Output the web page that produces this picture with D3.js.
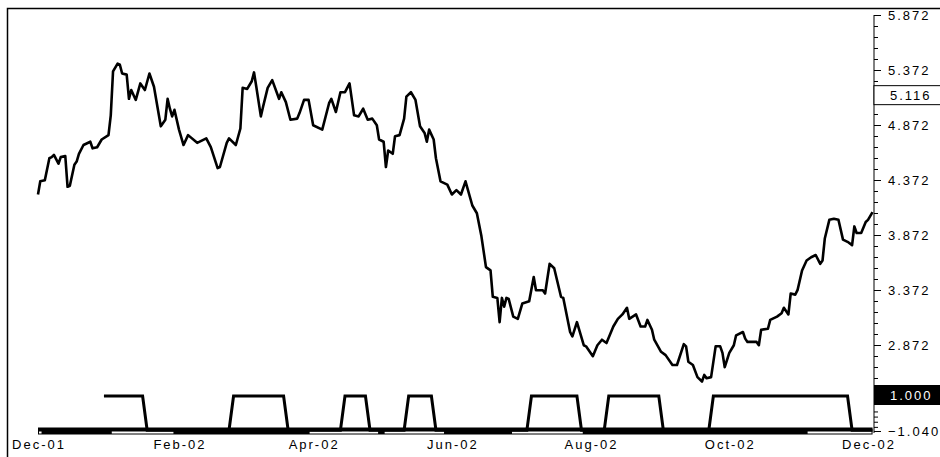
<!DOCTYPE html>
<html>
<head>
<meta charset="utf-8">
<script src="https://cdn.jsdelivr.net/npm/d3@7"></script>
<style>
  body { margin: 0; background: #fff; }
  svg text { font-family: "Liberation Sans", Arial, sans-serif; font-size: 13px; letter-spacing: 2px; }
</style>
</head>
<body>
<div id="chart"></div>
<script>
// price series
const priceDates = [
  "2001-12-01","2001-12-02","2001-12-04","2001-12-06","2001-12-07","2001-12-08","2001-12-10","2001-12-11","2001-12-13","2001-12-14",
  "2001-12-15","2001-12-17","2001-12-18","2001-12-19","2001-12-21","2001-12-24","2001-12-25","2001-12-27","2001-12-29","2002-01-01",
  "2002-01-02","2002-01-03","2002-01-05","2002-01-06","2002-01-07","2002-01-09","2002-01-10","2002-01-11","2002-01-13","2002-01-15",
  "2002-01-17","2002-01-19","2002-01-21","2002-01-24","2002-01-26","2002-01-27","2002-01-28","2002-01-29","2002-01-30","2002-02-01",
  "2002-02-03","2002-02-05","2002-02-09","2002-02-13","2002-02-15","2002-02-18","2002-02-19","2002-02-22","2002-02-23","2002-02-26",
  "2002-02-28","2002-03-01","2002-03-03","2002-03-05","2002-03-06","2002-03-07","2002-03-09","2002-03-10","2002-03-12","2002-03-14",
  "2002-03-17","2002-03-18","2002-03-20","2002-03-22","2002-03-25","2002-03-26","2002-03-28","2002-03-30","2002-04-01","2002-04-05",
  "2002-04-08","2002-04-09","2002-04-11","2002-04-13","2002-04-15","2002-04-17","2002-04-19","2002-04-21","2002-04-23","2002-04-25",
  "2002-04-27","2002-04-29","2002-04-30","2002-05-02","2002-05-03","2002-05-04","2002-05-06","2002-05-07","2002-05-09","2002-05-11",
  "2002-05-12","2002-05-14","2002-05-16","2002-05-18","2002-05-20","2002-05-21","2002-05-22","2002-05-24","2002-05-25","2002-05-27",
  "2002-05-30","2002-06-01","2002-06-03","2002-06-05","2002-06-07","2002-06-10","2002-06-12","2002-06-14","2002-06-16","2002-06-18",
  "2002-06-19","2002-06-21","2002-06-22","2002-06-23","2002-06-24","2002-06-25","2002-06-26","2002-06-28","2002-06-30","2002-07-02",
  "2002-07-05","2002-07-07","2002-07-08","2002-07-11","2002-07-12","2002-07-14","2002-07-16","2002-07-19","2002-07-20","2002-07-23",
  "2002-07-24","2002-07-26","2002-07-29","2002-07-30","2002-08-02","2002-08-04","2002-08-06","2002-08-08","2002-08-11","2002-08-13",
  "2002-08-15","2002-08-17","2002-08-18","2002-08-21","2002-08-23","2002-08-25","2002-08-26","2002-08-28","2002-08-29","2002-09-01",
  "2002-09-03","2002-09-06","2002-09-08","2002-09-11","2002-09-12","2002-09-13","2002-09-15","2002-09-17","2002-09-19","2002-09-20",
  "2002-09-21","2002-09-23","2002-09-25","2002-09-27","2002-09-28","2002-09-29","2002-10-01","2002-10-03","2002-10-04","2002-10-07",
  "2002-10-08","2002-10-09","2002-10-13","2002-10-14","2002-10-15","2002-10-18","2002-10-19","2002-10-22","2002-10-24","2002-10-25",
  "2002-10-27","2002-10-28","2002-10-30","2002-10-31","2002-11-02","2002-11-04","2002-11-06","2002-11-08","2002-11-10","2002-11-11",
  "2002-11-12","2002-11-14","2002-11-16","2002-11-18","2002-11-20","2002-11-22","2002-11-24","2002-11-25","2002-11-26","2002-11-28",
  "2002-11-30","2002-12-01","2002-12-03"
];
const priceValues = [
  4.24,4.36,4.37,4.57,4.58,4.60,4.52,4.58,4.59,4.31,
  4.32,4.51,4.54,4.61,4.69,4.72,4.66,4.67,4.74,4.78,
  4.96,5.36,5.43,5.42,5.34,5.33,5.11,5.19,5.10,5.25,
  5.19,5.34,5.22,4.86,4.92,5.11,5.02,4.95,5.01,4.83,
  4.69,4.78,4.71,4.75,4.67,4.48,4.49,4.71,4.75,4.69,
  4.84,5.21,5.20,5.27,5.35,5.22,4.95,5.04,5.21,5.28,
  5.11,5.17,5.08,4.92,4.93,4.98,5.10,5.10,4.87,4.83,
  5.07,5.11,4.99,5.17,5.17,5.25,4.96,4.95,5.02,4.92,
  4.93,4.87,4.74,4.72,4.49,4.64,4.61,4.77,4.78,4.93,
  5.13,5.17,5.10,4.86,4.80,4.72,4.83,4.74,4.57,4.36,
  4.33,4.24,4.28,4.24,4.36,4.14,4.07,3.86,3.58,3.55,
  3.31,3.30,3.08,3.30,3.22,3.30,3.29,3.13,3.11,3.25,
  3.27,3.49,3.37,3.37,3.34,3.61,3.57,3.31,3.30,2.99,
  2.95,3.08,2.87,2.86,2.77,2.87,2.92,2.89,3.04,3.11,
  3.15,3.21,3.11,3.15,3.04,3.04,3.10,3.01,2.92,2.81,
  2.78,2.69,2.69,2.88,2.86,2.72,2.69,2.58,2.54,2.60,
  2.57,2.58,2.86,2.86,2.80,2.67,2.80,2.87,2.96,2.99,
  2.93,2.90,2.90,2.87,3.01,3.02,3.10,3.13,3.16,3.21,
  3.15,3.34,3.33,3.37,3.55,3.64,3.67,3.69,3.61,3.64,
  3.84,4.01,4.02,4.01,3.83,3.81,3.78,3.95,3.89,3.89,
  3.99,4.01,4.08
];

// on/off signal in the lower panel
const signalDates = [
  "2001-12-30","2002-01-16","2002-01-18","2002-02-23","2002-02-25","2002-03-19","2002-03-21",
  "2002-04-13","2002-04-15","2002-04-24","2002-04-26","2002-05-11","2002-05-13","2002-05-23","2002-05-25",
  "2002-07-04","2002-07-06","2002-07-26","2002-07-28","2002-08-07","2002-08-09","2002-08-31","2002-09-02",
  "2002-09-22","2002-09-24","2002-11-22","2002-11-24","2002-12-03"
];
const signalValues = [
  1,1,-1,-1,1,1,-1,
  -1,1,1,-1,-1,1,1,-1,
  -1,1,1,-1,-1,1,1,-1,
  -1,1,1,-1,-1
];

// white gaps inside the bottom bar
const gapStarts = ["2001-12-01","2002-01-02","2002-03-30","2002-05-02","2002-06-27","2002-11-04"];
const gapEnds   = ["2001-12-03","2002-01-30","2002-04-30","2002-05-29","2002-07-29","2002-12-03"];

const xTickDates = ["2001-12-01","2002-02-01","2002-04-01","2002-06-01","2002-08-01","2002-10-01","2002-12-01"];
const priceTicks = [5.872, 5.372, 4.872, 4.372, 3.872, 3.372, 2.872];
const priceMinorTicks = d3.range(0, 35).map(i => +(5.872 - i * 0.1).toFixed(3));
const markerValue = 5.116;
const signalLabel = 1.000;
const signalBottom = -1.040;
const signalMinorTicks = [0.1, -0.2, -0.5, -0.8];

const width = 940;
const height = 457;
const axisX = 874;

const parse = d3.timeParse('%Y-%m-%d');

const svg = d3.select('#chart')
  .append('svg')
  .attr('width', width)
  .attr('height', height);

const x = d3.scaleTime()
  .domain([parse('2001-12-01'), parse('2002-12-01')])
  .range([38, 868]);

const yPrice = d3.scaleLinear()
  .domain([5.872, 2.872])
  .range([15, 345]);

const ySig = d3.scaleLinear()
  .domain([signalLabel, signalBottom])
  .range([396, 431]);

// outer frame
svg.append('rect')
  .attr('x', 7.5).attr('y', 8.5)
  .attr('width', 1000).attr('height', 1000)
  .attr('fill', 'none')
  .attr('stroke', '#000')
  .attr('stroke-width', 1.5);

// price line
const prices = priceDates.map((d, i) => ({ date: parse(d), value: priceValues[i] }));
svg.append('path')
  .datum(prices)
  .attr('fill', 'none')
  .attr('stroke', '#000')
  .attr('stroke-width', 2.6)
  .attr('stroke-linejoin', 'round')
  .attr('d', d3.line().x(d => x(d.date)).y(d => yPrice(d.value)));

// bottom bar with white gaps
svg.append('rect')
  .attr('x', x(parse(priceDates[0])))
  .attr('y', ySig(signalBottom) - 3.5)
  .attr('width', x(parse(priceDates[priceDates.length - 1])) - x(parse(priceDates[0])))
  .attr('height', 7)
  .attr('fill', '#000');

svg.selectAll('line.gap')
  .data(gapStarts)
  .enter()
  .append('line')
  .attr('class', 'gap')
  .attr('x1', d => x(parse(d)) + 1)
  .attr('x2', (d, i) => x(parse(gapEnds[i])) - 1)
  .attr('y1', ySig(signalBottom) + 1.5)
  .attr('y2', ySig(signalBottom) + 1.5)
  .attr('stroke', '#fff')
  .attr('stroke-width', 2);

// signal line
const signal = signalDates.map((d, i) => ({ date: parse(d), value: signalValues[i] }));
svg.append('path')
  .datum(signal)
  .attr('fill', 'none')
  .attr('stroke', '#000')
  .attr('stroke-width', 3)
  .attr('d', d3.line().x(d => x(d.date)).y(d => ySig(d.value)));

// right axis line
svg.append('line')
  .attr('x1', axisX).attr('x2', axisX)
  .attr('y1', yPrice(priceTicks[0])).attr('y2', ySig(signalBottom) + 2)
  .attr('stroke', '#000')
  .attr('stroke-width', 1);

const minorAxis = svg.append('g')
  .attr('transform', `translate(${axisX},0)`)
  .call(d3.axisRight(yPrice).tickValues(priceMinorTicks.filter(v => yPrice(v) < 384)).tickSize(4).tickFormat(''));
minorAxis.select('.domain').remove();

const priceAxis = svg.append('g')
  .attr('transform', `translate(${axisX},0)`)
  .call(d3.axisRight(yPrice).tickValues(priceTicks).tickSize(7).tickPadding(7).tickFormat(d3.format('.3f')));
priceAxis.select('.domain').remove();

const sigMinor = svg.append('g')
  .attr('transform', `translate(${axisX},0)`)
  .call(d3.axisRight(ySig).tickValues(signalMinorTicks).tickSize(4).tickFormat(''));
sigMinor.select('.domain').remove();

const sigAxis = svg.append('g')
  .attr('transform', `translate(${axisX},0)`)
  .call(d3.axisRight(ySig).tickValues([signalBottom]).tickSize(7).tickPadding(7).tickFormat(d3.format('.3f')));
sigAxis.select('.domain').remove();

svg.selectAll('.tick text')
  .attr('fill', '#000')
  .style('font-size', '13px');
svg.selectAll('.tick line').attr('stroke', '#000');

// boxed marker label 5.116
const my = yPrice(markerValue) - 3;
svg.append('rect')
  .attr('x', axisX).attr('y', my - 9.5)
  .attr('width', width - axisX + 2).attr('height', 19)
  .attr('fill', '#fff')
  .attr('stroke', '#000');
svg.append('text')
  .attr('x', axisX + 16).attr('y', my)
  .attr('dy', '0.35em')
  .text(d3.format('.3f')(markerValue));

// black label for signal level
svg.append('rect')
  .attr('x', axisX).attr('y', ySig(signalLabel) - 11)
  .attr('width', width - axisX).attr('height', 20)
  .attr('fill', '#000');
svg.append('text')
  .attr('x', axisX + 16).attr('y', ySig(signalLabel) - 1)
  .attr('dy', '0.35em')
  .attr('fill', '#fff')
  .text(d3.format('.3f')(signalLabel));

// bottom date labels
const fmt = d3.timeFormat('%b-%y');
svg.selectAll('text.xlab')
  .data(xTickDates)
  .enter()
  .append('text')
  .attr('class', 'xlab')
  .attr('x', d => x(parse(d)) + 1)
  .attr('y', 449)
  .attr('text-anchor', 'middle')
  .text(d => fmt(parse(d)));
</script>
</body>
</html>
